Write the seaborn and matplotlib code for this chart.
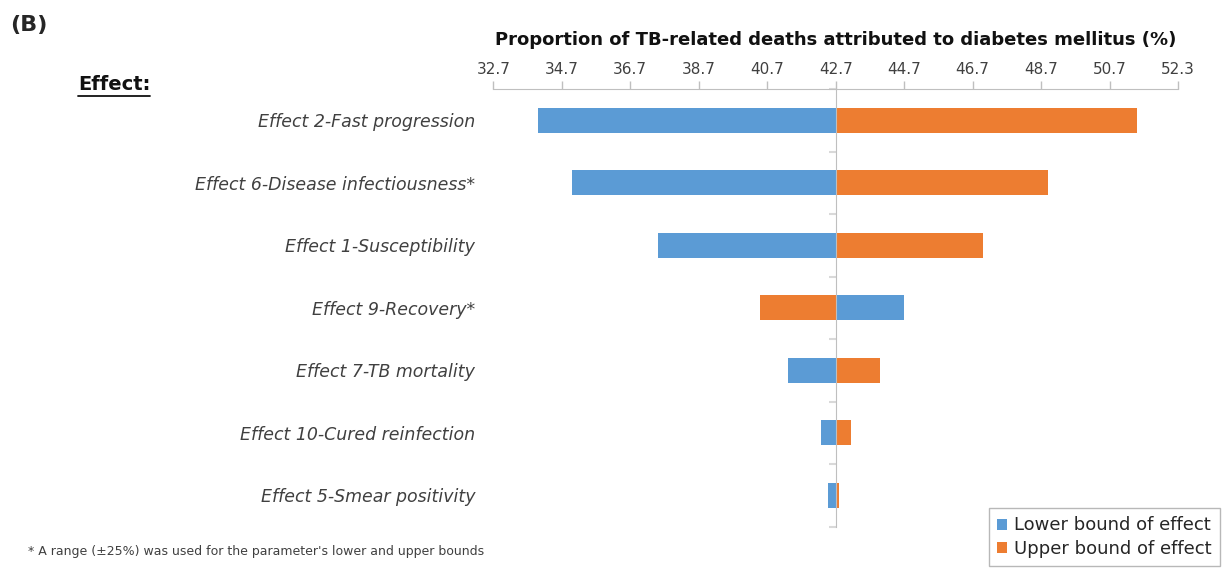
import pandas as pd
import numpy as np
import matplotlib.pyplot as plt
import matplotlib.lines as mlines
import seaborn as sns

# values
effects = [
    "Effect 2-Fast progression",
    "Effect 6-Disease infectiousness*",
    "Effect 1-Susceptibility",
    "Effect 9-Recovery*",
    "Effect 7-TB mortality",
    "Effect 10-Cured reinfection",
    "Effect 5-Smear positivity",
]
lower_bound = [34.0, 35.0, 37.5, 44.7, 41.3, 42.26, 42.48]
upper_bound = [51.5, 48.9, 47.0, 40.5, 44.0, 43.16, 42.81]
baseline = 42.7
tick_labels = ["32.7", "34.7", "36.7", "38.7", "40.7", "42.7",
               "44.7", "46.7", "48.7", "50.7", "52.3"]
bound_names = ["Lower bound of effect", "Upper bound of effect"]
colors = ["#5B9BD5", "#ED7D31"]

df = pd.DataFrame({
    "effect": effects * 2,
    "bound": [bound_names[0]] * len(effects) + [bound_names[1]] * len(effects),
    "value": lower_bound + upper_bound,
})
df["delta"] = df["value"] - baseline

sns.set_style("white")
plt.rcParams["font.family"] = ["DejaVu Sans"]

W, H = 1231, 569
fig = plt.figure(figsize=(W / 100, H / 100), dpi=100)
ax = fig.add_axes([493.3 / W, 1 - 526.5 / H, (1178 - 493.3) / W, (526.5 - 89) / H])

sns.barplot(data=df, y="effect", x="delta", hue="bound", palette=colors,
            saturation=1, dodge=False, width=0.4, linewidth=0, ax=ax, order=effects)

gray = "#BFBFBF"
ax.set_xlim(-10, 10)
ax.set_ylim(len(effects) - 0.5, -0.5)

# top value axis
ax.xaxis.tick_top()
ax.xaxis.set_label_position("top")
ax.set_xticks(np.arange(-10, 11, 2))
ax.set_xticklabels(tick_labels)
ax.tick_params(axis="x", direction="out", length=6, width=1, color=gray,
               labelsize=11, labelcolor="#404040", pad=3)
ax.set_xlabel("Proportion of TB-related deaths attributed to diabetes mellitus (%)",
              fontsize=13, fontweight="bold", color="#111111", labelpad=12)

# category axis drawn through the baseline
for s in ["bottom", "right"]:
    ax.spines[s].set_visible(False)
ax.spines["top"].set_color(gray)
ax.spines["left"].set_color(gray)
ax.spines["left"].set_position(("data", 0))
pad_pts = ((1178 - 493.3) / 2 + 18) * 72 / 100
ax.set_yticks(range(len(effects)))
ax.set_yticklabels(effects, fontstyle="italic")
ax.set_yticks(np.arange(-0.5, len(effects), 1), minor=True)
ax.tick_params(axis="y", which="major", left=True, length=0, pad=pad_pts,
               labelsize=12.5, labelcolor="#404040")
ax.tick_params(axis="y", which="minor", left=True, length=5, width=1.5,
               color="#D9D9D9", direction="out")
ax.set_ylabel("")

# legend
handles, labels = ax.get_legend_handles_labels()
ax.legend(handles, labels, loc="lower right",
          bbox_to_anchor=(1220 / W, 1 - 566 / H), bbox_transform=fig.transFigure,
          borderaxespad=0, frameon=True, fancybox=False, edgecolor="#A6A6A6",
          fontsize=13, handlelength=0.55, handleheight=0.55, handletextpad=0.4,
          borderpad=0.45, labelspacing=0.3, labelcolor="#262626")

# panel texts
fig.text(10 / W, 1 - 25 / H, "(B)", fontsize=16, fontweight="bold", va="center")
eff = fig.text(78 / W, 1 - 84 / H, "Effect:", fontsize=14, fontweight="bold",
               va="center", color="#111111")
fig.canvas.draw()
bb = eff.get_window_extent(fig.canvas.get_renderer()).transformed(fig.transFigure.inverted())
fig.add_artist(mlines.Line2D([bb.x0, bb.x1], [bb.y0 - 0.004, bb.y0 - 0.004],
                             transform=fig.transFigure, color="#111111", lw=1.3))
fig.text(28 / W, 1 - 551 / H,
         "* A range (\u00b125%) was used for the parameter's lower and upper bounds",
         fontsize=9, va="center", color="#404040")

fig.savefig("out.png", dpi=100)
